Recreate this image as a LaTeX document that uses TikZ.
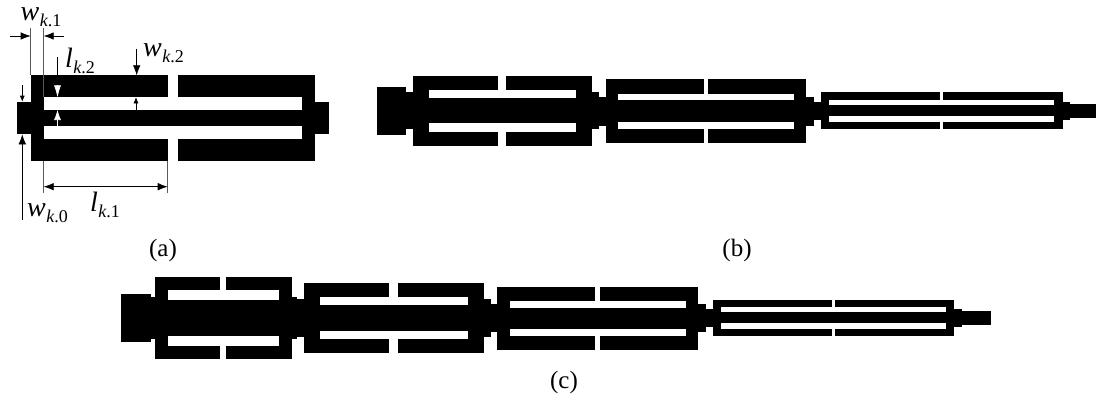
\documentclass[tikz,border=0pt]{standalone}
\usepackage{fontspec}
\setmainfont{Liberation Serif}
\usetikzlibrary{arrows.meta}
\newcommand{\dimlab}[3]{{\fontsize{28}{28}\selectfont\itshape #1}\kern0.5pt\raisebox{-5.5pt}{\fontsize{18}{18}\selectfont{\itshape #2}.#3}}
\tikzset{
  metal/.style={fill=black},
  slot/.style={fill=white},
  ext/.style={draw=black!65,line width=0.6pt},
  dimb/.style={draw=black,line width=0.6pt,-{Latex[length=10pt,width=7.5pt]}},
  dimboth/.style={draw=black,line width=0.6pt,{Latex[length=10pt,width=7.5pt]}-{Latex[length=10pt,width=7.5pt]}},
  lab/.style={inner sep=0pt,anchor=west},
  figcap/.style={inner sep=0pt,font=\fontsize{25}{25}\selectfont}
}
\begin{document}
\begin{tikzpicture}[x=1pt,y=-1pt]
\useasboundingbox (0,0) rectangle (1096,405);
\fill[white] (0,0) rectangle (1096,405);
% plain black bars: x0/y0/x1/y1
\foreach \a/\b/\c/\d in {
  17/101.7/329/134.3,
  377/87/406/134.7, 406/92.3/599/129.3, 599/96.7/814/125.7, 814/102/1070.3/119.7, 1070.3/104/1096/117.7,
  121.3/294/151/341.7, 151/296.7/297.3/339.3, 297.3/299.3/491/336.7, 491/303.7/706/332, 706/309.3/961.7/327, 961.7/311/991.3/325}
  {\fill[metal] (\a,\b) rectangle (\c,\d);}
% resonators: x0/x1/ytop/ybot/slot x0/slot x1/up0/up1/lo0/lo1/gap0/gap1
\foreach \xa/\xb/\yt/\yb/\wa/\wb/\ua/\ub/\la/\lb/\ga/\gb in {
  30.7/315.3/75.3/160.7/43.7/302/97.3/110/126/138.7/167.7/177.7,
  412.7/592/76/145.7/429/575.7/90.3/97.7/123.3/132/498/506.3,
  606/806.3/79.3/142.7/618.3/794/94/100/122.3/128.7/703.7/708,
  821/1062.7/92.3/128.7/829/1054.3/100/105.3/116.3/121.7/940.3/943,
  155.3/291.7/277.3/358.7/168/279.3/290/300/336/346/220.3/226.3,
  304/484/283/353.3/320.3/468/297.3/305.3/330.7/339/389.3/398,
  497.3/698.3/286.7/350/510/685.7/301/307.7/329.3/335.7/595/599.7,
  712.7/954.3/300/336.3/721/946/306.7/312.3/323.3/329/832/835}
{
  \fill[metal] (\xa,\yt) rectangle (\xb,\yb);
  \fill[slot] (\wa,\ua) rectangle (\wb,\ub);
  \fill[slot] (\wa,\la) rectangle (\wb,\lb);
  \fill[slot] (\ga,\yt) rectangle (\gb,\ua);
  \fill[slot] (\ga,\lb) rectangle (\gb,\yb);
}
% dimension anchors
\coordinate (w1a) at (30.7,28); \coordinate (w1b) at (30.7,75.3);
\coordinate (w1c) at (43.7,28); \coordinate (w1d) at (43.7,97.3);
\coordinate (w1l) at (10,36); \coordinate (w1la) at (30.7,36);
\coordinate (w1r) at (64,36); \coordinate (w1ra) at (43.7,36);
\coordinate (l2a) at (57.5,57); \coordinate (l2m) at (57.5,85); \coordinate (l2b) at (57.5,97.3);
\coordinate (l2c) at (57.5,126); \coordinate (l2d) at (57.5,110);
\coordinate (w2a) at (136.7,49); \coordinate (w2b) at (136.7,75.3);
\coordinate (w2c) at (136,110); \coordinate (w2d) at (136,97.3);
\coordinate (w0a) at (22.3,85); \coordinate (w0b) at (22.3,101.7);
\coordinate (w0c) at (22.3,220); \coordinate (w0d) at (22.3,134.3);
\coordinate (l1a) at (43.7,160.7); \coordinate (l1b) at (43.7,193);
\coordinate (l1c) at (167.7,160.7); \coordinate (l1d) at (167.7,193);
\coordinate (l1e) at (43.7,186.7); \coordinate (l1f) at (167.7,186.7);
\draw[ext] (w1a) -- (w1b);
\draw[ext] (w1c) -- (w1d);
\draw[ext] (l1a) -- (l1b);
\draw[ext] (l1c) -- (l1d);
\draw[dimb] (w1l) -- (w1la);
\draw[dimb] (w1r) -- (w1ra);
\draw[dimb] (l2a) -- (l2m);
\draw[draw=white,line width=0.6pt,-{Latex[length=12pt,width=7pt,white]}] (l2m) -- (l2b);
\draw[draw=white,line width=0.6pt,-{Latex[length=10pt,width=7pt,white]}] (l2c) -- (l2d);
\draw[dimb] (w2a) -- (w2b);
\draw[draw=black,line width=0.6pt,-{Latex[length=6pt,width=5pt]}] (w2c) -- (w2d);
\draw[draw=black,line width=0.6pt,-{Latex[length=6pt,width=5pt]}] (w0a) -- (w0b);
\draw[dimb] (w0c) -- (w0d);
\draw[dimboth] (l1e) -- (l1f);
% labels
\node[lab] (tw1) at (20.5,17) {\dimlab{w}{k}{1}};
\node[lab] (tl2) at (65,61) {\dimlab{l}{k}{2}};
\node[lab] (tw2) at (143,53) {\dimlab{w}{k}{2}};
\node[lab] (tl1) at (90,205) {\dimlab{l}{k}{1}};
\node[lab] (tw0) at (27,213) {\dimlab{w}{k}{0}};
\node[figcap] (ca) at (163,250) {(a)};
\node[figcap] (cb) at (737,250) {(b)};
\node[figcap] (cc) at (564,382) {(c)};
\end{tikzpicture}
\end{document}
